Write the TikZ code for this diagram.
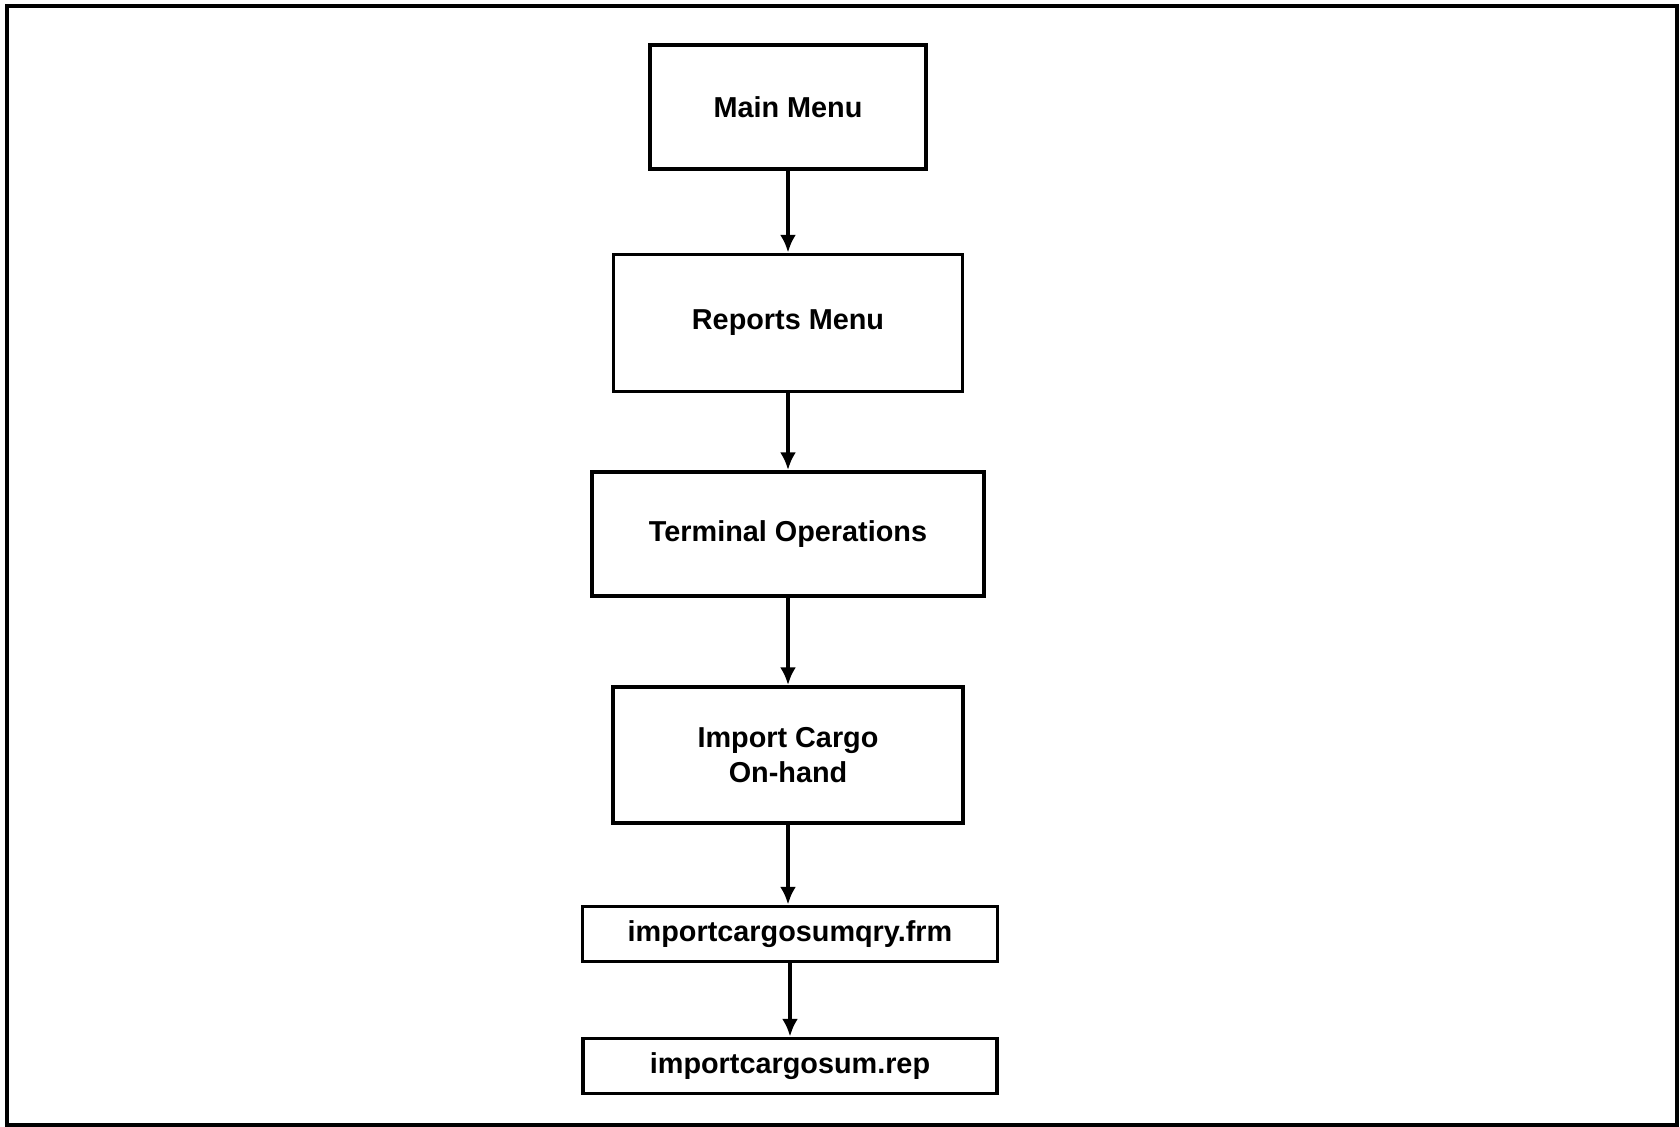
\documentclass[tikz,border=0pt]{standalone}
\usepackage{fontspec}
\setmainfont{Liberation Sans}
\usepackage{tikz}
\usetikzlibrary{arrows.meta, positioning}

\begin{document}
\begin{tikzpicture}[
  mbox/.style={draw, line width=1.1pt, align=center, font=\fontsize{8.2}{10}\selectfont\bfseries, inner sep=2pt},
  flow/.style={line width=1.1pt, -{Latex[length=5pt, width=4.5pt]}}
]
  \useasboundingbox (0, 0) rectangle (16.8, -11.27);
  \draw[line width=0.9pt] (0.07, -0.06) rectangle (16.77, -11.25);

  \node[mbox, minimum width=2.76cm, minimum height=1.24cm] (mainmenu) at (7.88, -1.07) {Main Menu};
  \node[mbox, minimum width=3.49cm, minimum height=1.37cm] (reports) at (7.88, -3.23) {Reports Menu};
  \node[mbox, minimum width=3.92cm, minimum height=1.24cm] (terminal) at (7.88, -5.34) {Terminal Operations};
  \node[mbox, minimum width=3.50cm, minimum height=1.36cm] (importcargo) at (7.88, -7.55) {Import Cargo\\On-hand};
  \node[mbox, minimum width=4.15cm, minimum height=0.55cm] (sumqry) at (7.90, -9.34) {importcargosumqry.frm};
  \node[mbox, minimum width=4.14cm, minimum height=0.55cm] (sumrep) at (7.90, -10.66) {importcargosum.rep};

  \draw[flow] (mainmenu.south) -- (mainmenu.south |- reports.north);
  \draw[flow] (reports.south) -- (reports.south |- terminal.north);
  \draw[flow] (terminal.south) -- (terminal.south |- importcargo.north);
  \draw[flow] (importcargo.south) -- (importcargo.south |- sumqry.north);
  \draw[flow] (sumqry.south) -- (sumqry.south |- sumrep.north);
\end{tikzpicture}
\end{document}
